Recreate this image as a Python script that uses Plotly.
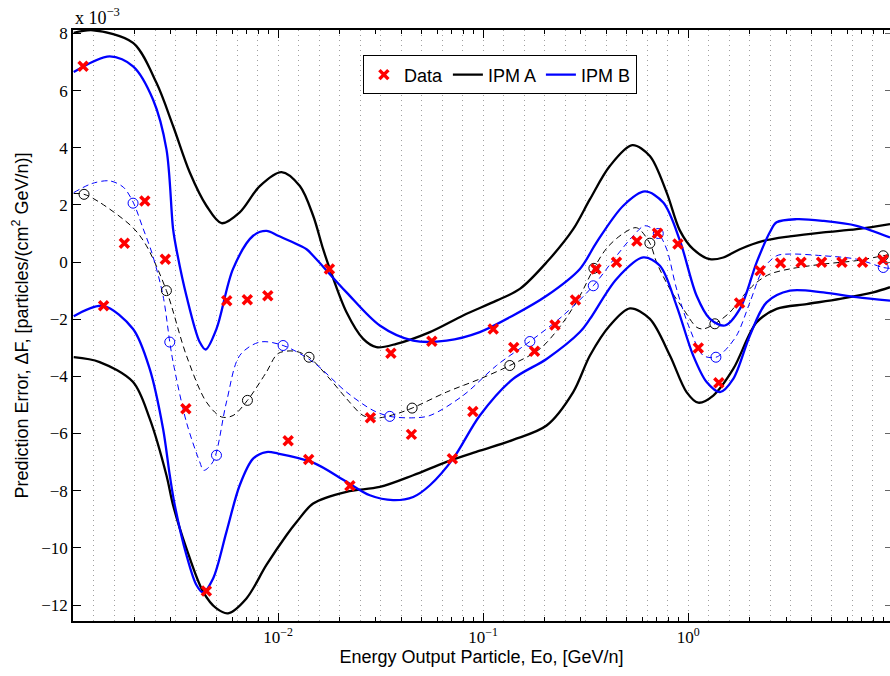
import plotly.graph_objects as go

# ---------------- data (y values in units of 1e-3) ----------------
data_x = [0.00112, 0.00141, 0.00178, 0.00224, 0.00282, 0.00355, 0.00447, 0.00562, 0.00708, 0.00891,
          0.0112, 0.0141, 0.0178, 0.0224, 0.0282, 0.0355, 0.0447, 0.0562, 0.0708, 0.0891,
          0.112, 0.141, 0.178, 0.224, 0.282, 0.355, 0.447, 0.562, 0.708, 0.891,
          1.12, 1.41, 1.78, 2.24, 2.82, 3.55, 4.47, 5.62, 7.08, 8.91]
data_y = [6.85, -1.53, 0.66, 2.14, 0.10, -5.13, -11.51, -1.35, -1.32, -1.18,
          -6.25, -6.91, -0.24, -7.83, -5.45, -3.19, -6.03, -2.77, -6.88, -5.23,
          -2.34, -2.99, -3.12, -2.20, -1.33, -0.24, -0.01, 0.74, 1.01, 0.63,
          -3.01, -4.22, -1.43, -0.30, -0.03, -0.01, -0.01, -0.01, -0.01, 0.08]

a_up_x = [0.001008, 0.001253, 0.001963, 0.002552, 0.003077, 0.003707, 0.004473, 0.0053, 0.006501, 0.008143,
          0.01039, 0.01277, 0.01483, 0.01659, 0.01788, 0.02157, 0.02601, 0.03019, 0.03781, 0.05501,
          0.07985, 0.1162, 0.151, 0.2039, 0.2749, 0.3318, 0.4148, 0.5333, 0.6501, 0.7852,
          0.9112, 1.0574, 1.276, 1.483, 1.787, 2.323, 3.133, 4.56, 6.629, 9.64]
a_up_y = [8.02, 8.11, 7.67, 6.27, 4.76, 3.14, 1.97, 1.36, 1.74, 2.66,
          3.15, 2.66, 1.62, 0.45, -0.24, -1.76, -2.69, -2.98, -2.86, -2.45,
          -1.87, -1.35, -0.94, -0.01, 1.15, 2.20, 3.36, 4.09, 3.71, 2.43,
          1.10, 0.45, 0.10, 0.16, 0.45, 0.74, 0.90, 1.04, 1.15, 1.33]

a_lo_x = [0.001008, 0.001349, 0.001963, 0.002366, 0.002855, 0.003077, 0.003573, 0.004305, 0.005008, 0.005702,
          0.007011, 0.008776, 0.01099, 0.01234, 0.01483, 0.02157, 0.03133, 0.0456, 0.06629, 0.09637,
          0.14, 0.2039, 0.2749, 0.3318, 0.4148, 0.5198, 0.6501, 0.8143, 0.9816, 1.119,
          1.325, 1.658, 2.156, 2.698, 3.782, 5.5, 7.985, 9.64]
a_lo_y = [-3.33, -3.50, -4.20, -5.48, -7.46, -8.51, -10.02, -11.53, -12.12, -12.29,
          -11.77, -10.60, -9.56, -9.09, -8.45, -8.04, -7.87, -7.46, -6.99, -6.60,
          -6.22, -5.72, -4.55, -3.27, -2.22, -1.62, -1.99, -3.27, -4.55, -4.92,
          -4.67, -3.74, -2.11, -1.64, -1.47, -1.29, -1.06, -0.88]

b_up_x = [0.001008, 0.00151, 0.001963, 0.002455, 0.002855, 0.003077, 0.003194, 0.003573, 0.004148, 0.004437,
          0.005008, 0.006032, 0.007556, 0.008776, 0.01, 0.01377, 0.01483, 0.02157, 0.03133, 0.0456,
          0.06629, 0.09637, 0.14, 0.2039, 0.2964, 0.3574, 0.4822, 0.6148, 0.7556, 0.9112,
          1.099, 1.276, 1.51, 1.787, 2.156, 2.504, 2.698, 3.378, 4.56, 6.629, 9.64]
b_up_y = [6.65, 7.20, 6.85, 5.69, 3.95, 1.15, 0.45, -1.18, -2.80, -3.06,
          -2.34, -0.24, 0.92, 1.09, 0.92, 0.45, 0.22, -1.06, -2.22, -2.75,
          -2.75, -2.45, -1.87, -1.18, -0.24, 0.69, 1.97, 2.47, 2.08, 0.75,
          -1.18, -1.99, -2.22, -1.64, -0.01, 1.05, 1.39, 1.50, 1.44, 1.27, 0.86]

b_lo_x = [0.001008, 0.0014, 0.001963, 0.002366, 0.002749, 0.002964, 0.003136, 0.003573, 0.003997, 0.004305,
          0.004822, 0.005602, 0.006501, 0.007556, 0.008776, 0.01, 0.01483, 0.02157, 0.02802, 0.03639,
          0.0456, 0.05501, 0.0714, 0.09637, 0.14, 0.2039, 0.2964, 0.3318, 0.4474, 0.6032,
          0.7281, 0.8776, 1.0574, 1.23, 1.428, 1.658, 1.999, 2.411, 3.133, 4.56, 6.629, 9.64]
b_lo_y = [-1.90, -1.53, -2.34, -3.74, -5.83, -7.46, -8.51, -10.25, -11.30, -11.56,
          -11.07, -9.44, -7.81, -6.88, -6.65, -6.70, -7.02, -7.69, -8.16, -8.33,
          -8.22, -7.81, -6.88, -5.37, -4.09, -3.39, -2.45, -1.99, -0.59, 0.16,
          -0.13, -1.53, -3.27, -4.20, -4.55, -4.09, -2.57, -1.41, -1.00, -1.06, -1.23, -1.35]

a_mean_x = [0.001008, 0.001132, 0.001349, 0.001963, 0.002281, 0.002855, 0.003573, 0.004473, 0.0053, 0.006032,
            0.00709, 0.008776, 0.01, 0.0121, 0.01416, 0.01788, 0.02157, 0.02601, 0.03019, 0.03781,
            0.04505, 0.06629, 0.09637, 0.1349, 0.1891, 0.2455, 0.2964, 0.3468, 0.402, 0.4822,
            0.5602, 0.6501, 0.7011, 0.8143, 0.9456, 1.099, 1.184, 1.349, 1.596, 1.855,
            2.156, 2.504, 3.133, 4.56, 6.629, 8.935, 9.64]
a_mean_y = [2.40, 2.37, 2.09, 1.20, 0.57, -1.00, -3.27, -4.90, -5.42, -5.37,
            -4.84, -3.85, -3.20, -3.12, -3.33, -4.09, -4.78, -5.37, -5.46, -5.31,
            -5.11, -4.55, -4.09, -3.62, -3.04, -2.11, -1.18, -0.22, 0.50, 1.00,
            1.20, 0.66, -0.01, -0.94, -1.64, -2.28, -2.34, -2.16, -1.76, -1.18,
            -0.71, -0.42, -0.24, -0.07, 0.05, 0.22, 0.25]

b_mean_x = [0.001008, 0.00124, 0.00151, 0.00176, 0.001963, 0.00219, 0.00243, 0.002749, 0.002964, 0.003077,
            0.003573, 0.004148, 0.00434, 0.004822, 0.005602, 0.006501, 0.008143, 0.01058, 0.01483, 0.02157,
            0.02906, 0.03506, 0.0456, 0.05501, 0.07985, 0.1162, 0.169, 0.2455, 0.3444, 0.4474,
            0.5394, 0.6148, 0.7145, 0.7852, 0.8776, 1.0186, 1.184, 1.365, 1.483, 1.722,
            1.999, 2.323, 2.698, 3.133, 4.56, 6.629, 8.935, 9.64]
b_mean_y = [2.43, 2.75, 2.84, 2.62, 2.10, 1.20, 0.30, -1.18, -2.80, -3.50,
            -5.60, -6.99, -7.29, -6.98, -4.90, -3.27, -2.80, -2.92, -3.50, -4.55,
            -5.19, -5.40, -5.45, -5.37, -4.67, -3.62, -2.78, -1.87, -0.83, 0.22,
            0.92, 1.27, 1.00, 0.45, -0.94, -2.34, -3.27, -3.33, -3.15, -2.57,
            -1.41, -0.24, 0.22, 0.28, 0.22, 0.10, -0.19, -0.22]

a_circ_x = [0.001132, 0.002855, 0.00709, 0.01416, 0.04505, 0.1349, 0.3468, 0.6501, 1.349, 8.935]
a_circ_y = [2.37, -1.00, -4.84, -3.33, -5.11, -3.62, -0.22, 0.66, -2.16, 0.22]
b_circ_x = [0.001963, 0.002964, 0.005008, 0.01058, 0.03506, 0.169, 0.3444, 0.7145, 1.365, 8.935]
b_circ_y = [2.06, -2.80, -6.76, -2.92, -5.40, -2.78, -0.83, 1.00, -3.33, -0.19]

x_tick_vals = [0.01, 0.1, 1]
x_tick_text = ["10<sup>−2</sup>", "10<sup>−1</sup>", "10<sup>0</sup>"]
y_tick_vals = [-12, -10, -8, -6, -4, -2, 0, 2, 4, 6, 8]
minor_tick_vals = [m * 10.0 ** e for e in (-3, -2, -1, 0) for m in range(2, 10)]
grid_vals = [10 ** (-3 + k / 10) for k in range(1, 40)]

BLACK = "#000000"
BLUE = "#0000FF"
RED = "#FF0000"

fig = go.Figure()

spl = dict(shape="spline", smoothing=0.9)

# mean (dashed) curves
fig.add_trace(go.Scatter(x=a_mean_x, y=a_mean_y, mode="lines", showlegend=False,
                         line=dict(color=BLACK, width=1, dash="6px,4px", **spl)))
fig.add_trace(go.Scatter(x=b_mean_x, y=b_mean_y, mode="lines", showlegend=False,
                         line=dict(color=BLUE, width=1, dash="6px,4px", **spl)))
fig.add_trace(go.Scatter(x=a_circ_x, y=a_circ_y, mode="markers", showlegend=False,
                         marker=dict(symbol="circle-open", size=10, color=BLACK, line=dict(width=1))))
fig.add_trace(go.Scatter(x=b_circ_x, y=b_circ_y, mode="markers", showlegend=False,
                         marker=dict(symbol="circle-open", size=10, color=BLUE, line=dict(width=1))))

# bounds
fig.add_trace(go.Scatter(x=a_up_x, y=a_up_y, mode="lines", name="IPM A", legendrank=2,
                         line=dict(color=BLACK, width=2.3, **spl)))
fig.add_trace(go.Scatter(x=a_lo_x, y=a_lo_y, mode="lines", showlegend=False,
                         line=dict(color=BLACK, width=2.3, **spl)))
fig.add_trace(go.Scatter(x=b_up_x, y=b_up_y, mode="lines", name="IPM B", legendrank=3,
                         line=dict(color=BLUE, width=2.3, **spl)))
fig.add_trace(go.Scatter(x=b_lo_x, y=b_lo_y, mode="lines", showlegend=False,
                         line=dict(color=BLUE, width=2.3, **spl)))

# data
fig.add_trace(go.Scatter(x=data_x, y=data_y, mode="markers", name="Data", legendrank=1,
                         marker=dict(symbol="x-thin", size=9, color=RED,
                                     line=dict(color=RED, width=3.5))))

XR = [-3, 0.984]
YR = [-12.56, 8.12]
serif = "Liberation Serif, Times New Roman, serif"
sans = "Liberation Sans, Arial, Helvetica, sans-serif"
tickfont = dict(family=serif, size=17, color="black")

fig.update_layout(
    width=890, height=676,
    margin=dict(l=73, r=0, t=30, b=55, autoexpand=False),
    paper_bgcolor="white", plot_bgcolor="white",
    font=dict(family=sans, size=18, color="black"),
    xaxis=dict(type="log", range=XR, showgrid=False, zeroline=False,
               tickmode="array", tickvals=x_tick_vals, ticktext=x_tick_text,
               ticks="inside", ticklen=8, tickwidth=1, tickcolor="black",
               showline=True, linecolor="black", linewidth=1.5, mirror="ticks",
               tickfont=tickfont, automargin=False,
               minor=dict(tickmode="array", tickvals=minor_tick_vals, ticks="inside",
                          ticklen=4, tickwidth=1, tickcolor="black", showgrid=False),
               title=dict(text="Energy Output Particle, Eo, [GeV/n]",
                          font=dict(family=sans, size=18), standoff=4)),
    xaxis2=dict(type="log", range=XR, overlaying="x", anchor="y", side="bottom",
                tickmode="array", tickvals=grid_vals, showticklabels=False, ticks="",
                showgrid=True, gridcolor="#a0a0a0", gridwidth=1, griddash="1px,4px",
                showline=False, zeroline=False),
    yaxis=dict(range=YR, showgrid=False, zeroline=False,
               tickmode="array", tickvals=y_tick_vals,
               ticks="inside", ticklen=8, tickwidth=1, tickcolor="black",
               showline=True, linecolor="black", linewidth=1.5, mirror=False,
               tickfont=tickfont, automargin=False,
               title=dict(text="Prediction Error, ΔF, [particles/(cm<sup>2</sup> GeV/n)]",
                          font=dict(family=sans, size=18), standoff=8)),
    yaxis2=dict(range=YR, overlaying="y", anchor="x", side="right",
                tickmode="array", tickvals=y_tick_vals,
                ticks="inside", ticklen=5, tickcolor="#666", showticklabels=False,
                showgrid=False, showline=False, zeroline=False),
    legend=dict(orientation="h", x=0.5225, y=0.957, xanchor="center", yanchor="top",
                bgcolor="white", bordercolor="black", borderwidth=1,
                font=dict(family=sans, size=18), itemwidth=30, tracegroupgap=0),
    annotations=[dict(text="x 10<sup>−3</sup>", xref="paper", yref="paper", x=0, y=1,
                      xanchor="left", yanchor="bottom", showarrow=False, yshift=0,
                      font=dict(family=serif, size=18))],
)

# invisible trace that activates the overlay axes (grid + right ticks)
fig.add_trace(go.Scatter(x=[0.01], y=[0], xaxis="x2", yaxis="y2", mode="markers",
                         marker=dict(opacity=0), showlegend=False, hoverinfo="skip"))

# remove the default 8px page margin so the 890x676 figure fills the window exactly
fig.write_html("out.html", config={"displayModeBar": False},
               post_script="document.body.style.margin='0';document.body.style.overflow='hidden';")
